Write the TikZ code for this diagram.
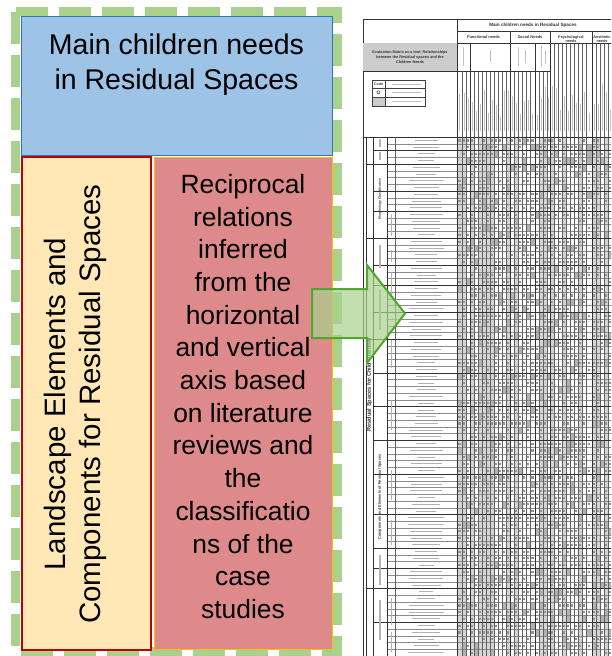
\documentclass[tikz,border=0pt]{standalone}
\usepackage{fontspec}
\setmainfont{Liberation Sans}
\definecolor{dashgreen}{HTML}{A9D18E}
\definecolor{bluef}{HTML}{9DC3E6}
\definecolor{blueb}{HTML}{2E75B6}
\definecolor{yellowf}{HTML}{FFE7B6}
\definecolor{redb}{HTML}{C00000}
\definecolor{pinkf}{HTML}{DF8A8A}
\definecolor{goldb}{HTML}{FFC000}
\definecolor{arrowf}{HTML}{A9D18E}
\definecolor{arrowb}{HTML}{4EA72E}
\tikzset{
  rowline/.style={draw=black!45, line width=0.3pt},
  colline/.style={draw=black!62, line width=0.35pt},
  grpline/.style={draw=black!80, line width=0.6pt},
  blurbar/.style={draw=black!30, line width=1.2pt},
  hdrbar/.style={draw=black!24, line width=0.9pt},
  hdrtxt/.style={text=black!80, inner sep=0pt, align=center},
  panel/.style={inner sep=0pt, anchor=north west},
}
\begin{document}
\begin{tikzpicture}[x=1pt,y=-1pt]
\useasboundingbox (0,0) rectangle (611,656);

% ---------------- table (right) ----------------
\begin{scope}
\clip (0,0) rectangle (611,656);
\pgfmathsetseed{11}
\foreach \xl/\xr in {457/462,462/466,466/470,470/474,474/478,478/482,482/486,486/490,490/494,494/498,498/502,502/506,506/510,510/514,514/518,518/522,522/526,526/530,530/535,535/539,539/543,543/547,547/550,550/554,554/558,558/562,562/566,566/570,570/574,574/578,578/582,582/586,586/592,592/596,596/600,600/604,604/608,608/612}{
  \pgfmathrandominteger{\rnda}{0}{9}
  \ifnum\rnda<5 \fill[black!17] (\xl,137) rectangle (\xr,656); \fi
  \pgfmathrandominteger{\lenb}{14}{50}
  \draw[hdrbar] ({(\xl+\xr)/2},131) -- ({(\xl+\xr)/2},131-\lenb);
  \foreach \i in {0,...,76}{
    \pgfmathrandominteger{\rndb}{0}{99}
    \pgfmathsetmacro{\yt}{137+\i*6.74}
    \ifnum\rndb<9 \fill[black!30] (\xl,\yt) rectangle (\xr,\yt+6.74);
    \else\ifnum\rndb<52 \fill[black!42] ({(\xl+\xr)/2-1.1},\yt+2.4) rectangle ({(\xl+\xr)/2+1.1},\yt+4.5); \fi\fi
  }
}
% row lines and label bars
\foreach \i in {0,...,77}{
  \draw[rowline] (387,{137+\i*6.74}) -- (612,{137+\i*6.74});
}
\foreach \i in {0,...,76}{
  \pgfmathrandominteger{\wd}{14}{36}
  \draw[blurbar, line width=1pt] ({426-\wd/2},{140.4+\i*6.74}) -- ({426+\wd/2},{140.4+\i*6.74});
}
% column lines
\foreach \x in {462,466,474,478,482,486,490,494,498,502,506,514,518,522,526,530,539,543,547}{
  \draw[colline] (\x,71) -- (\x,656);
}
\foreach \x in {554,558,562,566,570,574,578,582,586,596,600,604,608}{
  \draw[colline] (\x,43) -- (\x,656);
}
\draw[grpline] (457,19) -- (457,656);
\foreach \x in {510,550,592}{ \draw[grpline] (\x,31) -- (\x,656); }
\foreach \x in {470,535}{ \draw[grpline] (\x,43) -- (\x,656); }
% header horizontals
\draw[grpline] (363,19) -- (612,19);
\draw[grpline] (457,31) -- (612,31);
\draw[grpline] (363,43) -- (612,43);
\draw[grpline] (363,71) -- (550,71);
\draw[grpline] (363,137) -- (612,137);
% left label columns
\draw[grpline] (363,19) -- (363,656);
\draw[grpline] (366,137) -- (366,656);
\draw[grpline] (373,137) -- (373,656);
\draw[grpline] (387,137) -- (387,656);
\draw[colline] (395,137) -- (395,656);
\foreach \r in {2,4,8,11,15,19,22,26,30,35,40,45,50,56,61,64,67,72}{
  \draw[grpline] (373,{137+\r*6.74}) -- (612,{137+\r*6.74});
}
\foreach \r in {4,15,30,67}{
  \draw[grpline, line width=0.9pt] (366,{137+\r*6.74}) -- (612,{137+\r*6.74});
}
% blurred section labels
\foreach \ya/\yb in {139/147,152/160,245/268,290/330,555/585,600/640}{
  \draw[blurbar, line width=1.2pt] (380,\ya) -- (380,\yb);
}
\foreach \ya/\yb in {214/236,250/262,272/300,340/368,400/430,470/500,520/545,598/625,632/652}{
  \draw[blurbar, line width=1pt] (391,\ya) -- (391,\yb);
}
\node[hdrtxt, rotate=90, font=\bfseries\fontsize{3.3}{4}\selectfont] (morph) at (380,199) {Morphology Classification};
\node[hdrtxt, rotate=90, font=\bfseries\fontsize{3.8}{4}\selectfont] (compel) at (380,497) {Components and Elements of Residual Spaces};
\node[hdrtxt, rotate=90, font=\bfseries\fontsize{5.6}{6}\selectfont] (resid) at (369.5,385) {Residual Spaces for Child Oriented};
% header texts
\fill[black!20] (363.3,43.3) rectangle (456.7,70.7);
\node[hdrtxt, font=\bfseries\fontsize{4.6}{5}\selectfont] (mainhdr) at (533,25) {Main children needs in Residual Spaces};
\node[hdrtxt, font=\bfseries\fontsize{4}{5}\selectfont] (funchdr) at (483.5,37) {Functional needs};
\node[hdrtxt, font=\bfseries\fontsize{4}{5}\selectfont] (sochdr) at (530,37) {Social Needs};
\node[hdrtxt, font=\bfseries\fontsize{3.8}{4.6}\selectfont] (psyhdr) at (571,39) {Psychological\\needs};
\node[hdrtxt, font=\bfseries\fontsize{3.8}{4.6}\selectfont] (aeshdr) at (602,39) {Aesthetic\\needs};
\node[hdrtxt, font=\bfseries\fontsize{3.8}{5}\selectfont] (evalhdr) at (410,57) {Evaluation Matrix as a tool; Relationships\\between the Residual spaces and the\\Children Needs};
% sub-group header bars
\foreach \x/\ya/\yb in {463.5/47/66,490/50/62,518/47/66,525/50/63,541/46/67,545/50/64}{
  \draw[hdrbar] (\x,\ya) -- (\x,\yb);
}
% legend
\fill[black!20] (372,97) rectangle (385,106);
\draw[colline, draw=black!75, line width=0.5pt] (372,80) rectangle (425,106);
\draw[colline, draw=black!75] (385,80) -- (385,106) (372,88.5) -- (425,88.5) (372,97) -- (425,97);
\node[hdrtxt, font=\bfseries\fontsize{3.6}{4}\selectfont] (code) at (378.5,84.3) {Code};
\node[hdrtxt, font=\bfseries\fontsize{5}{5}\selectfont] (codeo) at (378.5,92.8) {O};
\foreach \yy in {84.3,92.8,101.5}{ \draw[hdrbar] (392,\yy) -- (421,\yy); }
\end{scope}

% ---------------- left panels ----------------
\draw[draw=dashgreen, line width=9pt, dash pattern=on 32pt off 11pt] (15.5,11.5) -- (337.5,11.5) -- (337.5,651.5) -- (15.5,651.5) -- cycle;
\node[panel, draw=blueb, fill=bluef, line width=1.2pt, minimum width=311pt, minimum height=139pt] (needs) at (21,16) {};
\node[panel, draw=redb, fill=yellowf, line width=1.6pt, minimum width=129pt, minimum height=493pt] (land) at (21,156) {};
\node[panel, draw=goldb, fill=pinkf, line width=1.2pt, minimum width=178pt, minimum height=492pt] (recip) at (154,157) {};
\node[anchor=north, align=center, inner sep=0pt, font=\fontsize{28.5}{35}\selectfont] (needstxt) at (176.5,33.2) {Main children needs\\in Residual Spaces};
\node[rotate=90, align=center, inner sep=0pt, font=\fontsize{29.5}{34.5}\selectfont] (landtxt) at (75.5,404) {Landscape Elements and\\Components for Residual Spaces};
\node[anchor=north, align=center, inner sep=0pt, font=\fontsize{26.4}{32.7}\selectfont] (reciptxt) at (243,174) {Reciprocal\\relations\\inferred\\from the\\horizontal\\and vertical\\axis based\\on literature\\reviews and\\the\\classificatio\\ns of the\\case\\studies};

% ---------------- arrow ----------------
\draw[draw=arrowb, fill=arrowf, fill opacity=0.7, line width=2pt, line join=miter]
  (312,289) -- (367,289) -- (367,265) -- (405,313.5) -- (367,363) -- (367,338) -- (312,338) -- cycle;
\end{tikzpicture}
\end{document}
